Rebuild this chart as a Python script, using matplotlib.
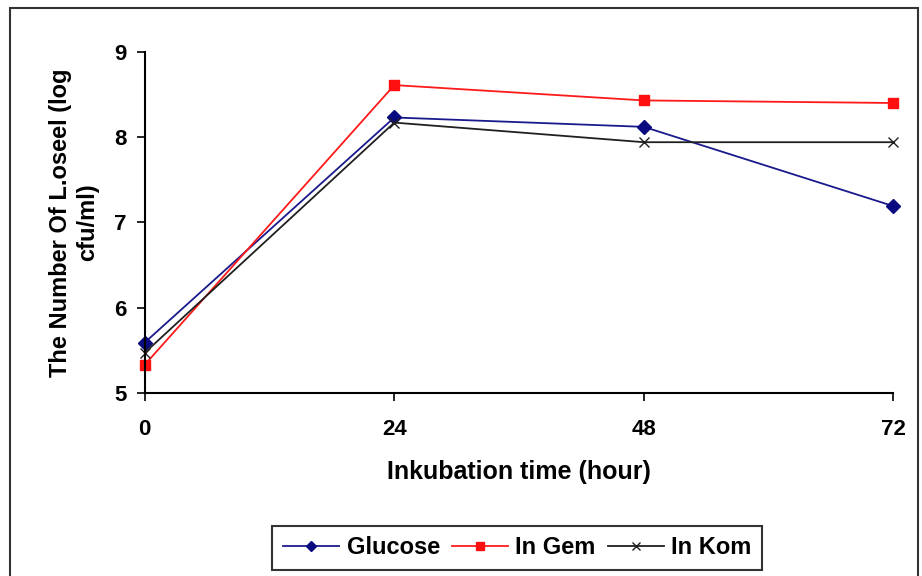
import matplotlib
matplotlib.use('Agg')
import matplotlib.pyplot as plt
from matplotlib.patches import Rectangle

# data
hours = [0, 24, 48, 72]
glucose = [5.59, 8.23, 8.12, 7.19]
in_gem = [5.33, 8.61, 8.43, 8.40]
in_kom = [5.47, 8.17, 7.94, 7.94]
yticks = [5, 6, 7, 8, 9]

plt.rcParams['font.family'] = 'Liberation Sans'
plt.rcParams['font.weight'] = 'bold'

fig = plt.figure(figsize=(9.22, 5.76), dpi=100)
ax = fig.add_axes([0.157, 0.318, 0.812, 0.592])

ax.plot(hours, glucose, c='#1a1a8c', lw=1.3, marker='D', ms=7,
        mfc='#0a0a80', mec='#0a0a80', label='Glucose', clip_on=False)
ax.plot(hours, in_gem, c='#ff1a1a', lw=1.3, marker='s', ms=7,
        mfc='#ff1010', mec='#ff1010', label='In Gem', clip_on=False)
ax.plot(hours, in_kom, c='#202020', lw=1.3, marker='x', ms=7,
        mew=1.0, label='In Kom', clip_on=False)

ax.set_xlim(0, 72)
ax.set_ylim(5, 9)
ax.set_xticks(hours)
ax.set_yticks(yticks)
ax.spines['top'].set_visible(False)
ax.spines['right'].set_visible(False)
ax.spines['left'].set_linewidth(1.5)
ax.spines['bottom'].set_linewidth(1.5)
ax.tick_params(direction='out', length=6, width=1.2, labelsize=16)
ax.tick_params(axis='x', pad=13)
ax.tick_params(axis='y', pad=7)

ax.set_xlabel('Inkubation time (hour)', fontsize=18, fontweight='bold', labelpad=14)
ax.set_ylabel('The Number Of L.oseel (log\ncfu/ml)', fontsize=17,
              fontweight='bold', labelpad=11, linespacing=1.2)

leg = fig.legend(loc='center', bbox_to_anchor=(0.561, 0.049), ncol=3,
                 frameon=True, fancybox=False, edgecolor='black',
                 fontsize=17, handlelength=2.4, columnspacing=0.5,
                 handletextpad=0.3, borderpad=0.45, markerscale=0.8)
leg.get_frame().set_linewidth(1.5)

# outer frame round the chart
fig.patches.append(Rectangle((0.011, -0.01), 0.985, 0.996, transform=fig.transFigure,
                             fill=False, ec='#333333', lw=1.5))

fig.savefig('out.png', dpi=100)
